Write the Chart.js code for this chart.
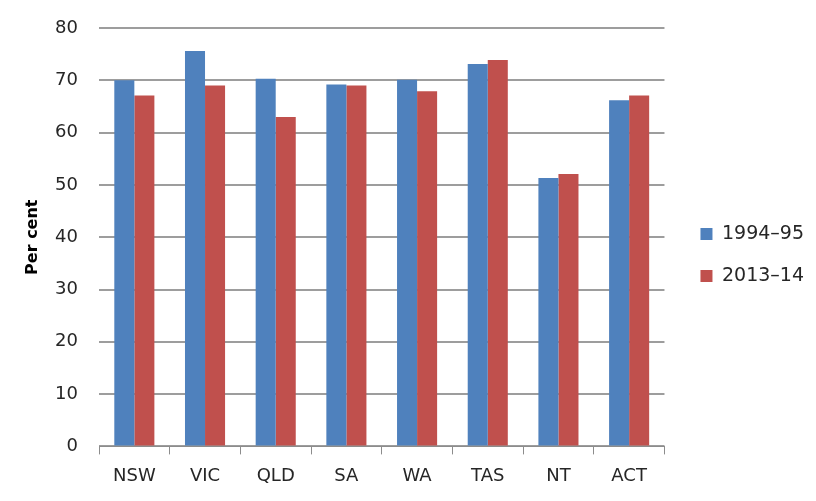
<!DOCTYPE html>
<html>
<head>
<meta charset="utf-8">
<script src="https://cdn.jsdelivr.net/npm/chart.js@4"></script>
<style>
html,body{margin:0;padding:0;background:#fff;}
#wrap{width:816px;height:501px;position:relative;}
</style>
</head>
<body>
<div id="wrap"><canvas id="c" width="816" height="501"></canvas></div>
<script>
const categories = ['NSW','VIC','QLD','SA','WA','TAS','NT','ACT'];
const series1994 = [70.0, 75.6, 70.3, 69.2, 70.1, 73.1, 51.3, 66.2];
const series2013 = [67.1, 69.0, 63.0, 69.0, 67.9, 73.9, 52.1, 67.1];
const seriesLabels = ['1994\u201395', '2013\u201314'];
const yTicks = [0,10,20,30,40,50,60,70,80];

const FONT = "'DejaVu Sans', 'Open Sans', sans-serif";

const legendShift = {
  id: 'legendShift',
  afterLayout(chart) {
    const lg = chart.legend;
    if (lg) { lg.left += 13; lg.right += 13; lg.top -= 8; lg.bottom -= 8; }
  }
};

const ctx = document.getElementById('c');
new Chart(ctx, {
  type: 'bar',
  data: {
    labels: categories,
    datasets: [
      { label: seriesLabels[0], data: series1994, backgroundColor: '#4F81BD', borderWidth: 0 },
      { label: seriesLabels[1], data: series2013, backgroundColor: '#C0504D', borderWidth: 0 }
    ]
  },
  plugins: [legendShift],
  options: {
    responsive: false,
    animation: false,
    devicePixelRatio: 1,
    layout: { padding: { left: 18, right: 15, top: 28, bottom: 3 } },
    datasets: { bar: { barPercentage: 1.0, categoryPercentage: 0.567 } },
    plugins: {
      legend: {
        position: 'right',
        align: 'center',
        labels: {
          boxWidth: 12, boxHeight: 12, padding: 23,
          color: '#262626',
          font: { family: FONT, size: 19 }
        }
      },
      tooltip: { enabled: false }
    },
    scales: {
      x: {
        grid: { display: true, drawOnChartArea: false, drawTicks: true, tickLength: 8, color: '#8c8c8c', lineWidth: 1, offset: true },
        border: { display: true, color: '#8c8c8c', width: 1 },
        ticks: { color: '#262626', font: { family: FONT, size: 18 }, padding: 11 }
      },
      y: {
        min: 0, max: 80,
        afterBuildTicks: (axis) => { axis.ticks = yTicks.map(v => ({ value: v })); },
        afterFit: (axis) => { axis.width = 81; axis.paddingTop = 0; axis.paddingBottom = 0; },
        grid: { color: '#9d9d9d', lineWidth: 2, drawTicks: false },
        border: { display: false },
        ticks: { color: '#262626', font: { family: FONT, size: 18 }, padding: 21 },
        title: { display: true, text: 'Per cent', color: '#000', font: { family: FONT, size: 16, weight: 'bold' }, padding: { top: 5, bottom: 0 } }
      }
    }
  }
});
</script>
</body>
</html>
